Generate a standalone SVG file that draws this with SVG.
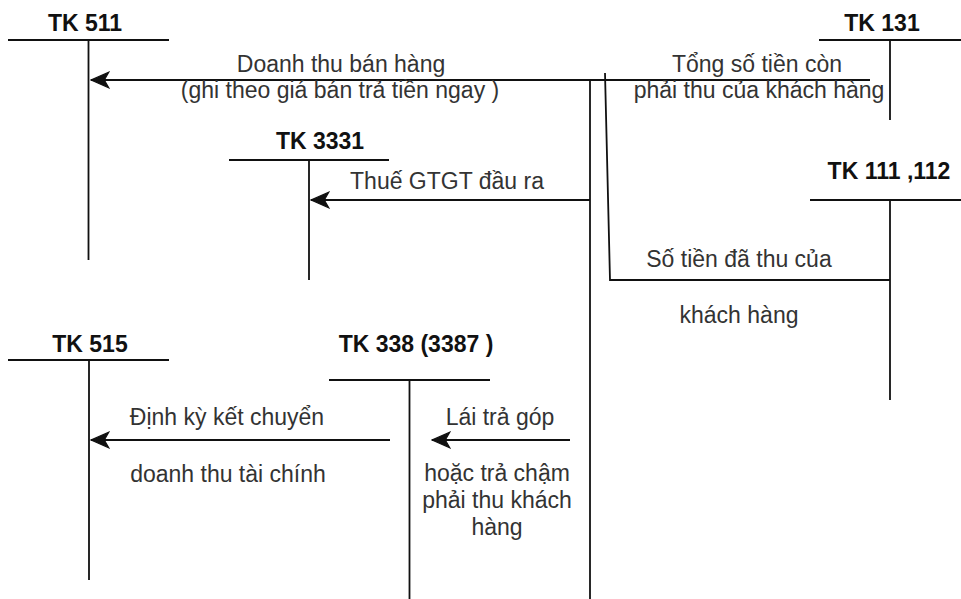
<svg xmlns="http://www.w3.org/2000/svg" width="961" height="599" viewBox="0 0 961 599">
  <defs>
    <style>
      .acc { fill: none; stroke: #111; stroke-width: 1.8; }
      .flow { fill: none; stroke: #111; stroke-width: 1.8; }
      .arrow { marker-end: url(#head); }
      .title { font-family: "Liberation Sans", Arial, sans-serif; font-size: 23px; font-weight: bold; fill: #111; text-anchor: middle; }
      .lbl { font-family: "Liberation Sans", Arial, sans-serif; font-size: 23px; fill: #333; text-anchor: middle; }
    </style>
    <marker id="head" markerUnits="userSpaceOnUse" markerWidth="20" markerHeight="20" viewBox="-17 -8 18 16" refX="0" refY="0" orient="auto">
      <path d="M0,0 L-16,-7 L-12,0 L-16,7 Z" fill="#111" stroke="#111" stroke-width="1"/>
    </marker>
  </defs>
  <rect width="961" height="599" fill="#fff"/>

  <!-- T-accounts -->
  <g id="tk511">
    <text class="title" x="85" y="31">TK 511</text>
    <path class="acc" d="M8,40 H169 M88.5,40 V260"/>
  </g>
  <g id="tk131">
    <text class="title" x="882" y="31">TK 131</text>
    <path class="acc" d="M819,40 H961 M890,40 V120"/>
  </g>
  <g id="tk3331">
    <text class="title" x="320" y="149">TK 3331</text>
    <path class="acc" d="M229,160 H389 M309,160 V280"/>
  </g>
  <g id="tk111">
    <text class="title" x="889" y="179">TK 111 ,112</text>
    <path class="acc" d="M810,200 H961 M890,200 V400"/>
  </g>
  <g id="tk515">
    <text class="title" x="90" y="352">TK 515</text>
    <path class="acc" d="M8,360 H169 M89,360 V580"/>
  </g>
  <g id="tk338">
    <text class="title" x="416" y="352">TK 338 (3387 )</text>
    <path class="acc" d="M329,380 H490 M409.5,380 V599"/>
  </g>

  <!-- entries between accounts -->
  <g id="connectors">
    <path class="flow arrow" d="M870,80 H91"/>
    <path class="flow" d="M590,80 V599"/>
    <path class="flow arrow" d="M590,200 H311"/>
    <path class="flow" d="M605,73 L610,280 H890"/>
    <path class="flow arrow" d="M390,440 H91"/>
    <path class="flow arrow" d="M570,440 H432"/>
  </g>

  <!-- entry labels -->
  <g id="labels">
    <text class="lbl" x="341" y="72">Doanh thu bán hàng</text>
    <text class="lbl" x="340" y="98">(ghi theo giá bán trả tiền ngay )</text>
    <text class="lbl" x="757" y="72">Tổng số tiền còn</text>
    <text class="lbl" x="759" y="98">phải thu của khách hàng</text>
    <text class="lbl" x="447" y="189">Thuế GTGT đầu ra</text>
    <text class="lbl" x="739" y="267">Số tiền đã thu của</text>
    <text class="lbl" x="739" y="323">khách hàng</text>
    <text class="lbl" x="227" y="425">Định kỳ kết chuyển</text>
    <text class="lbl" x="228" y="482">doanh thu tài chính</text>
    <text class="lbl" x="500" y="425">Lái trả góp</text>
    <text class="lbl" x="497" y="481">hoặc trả chậm</text>
    <text class="lbl" x="497" y="508">phải thu khách</text>
    <text class="lbl" x="497" y="535">hàng</text>
  </g>
</svg>
